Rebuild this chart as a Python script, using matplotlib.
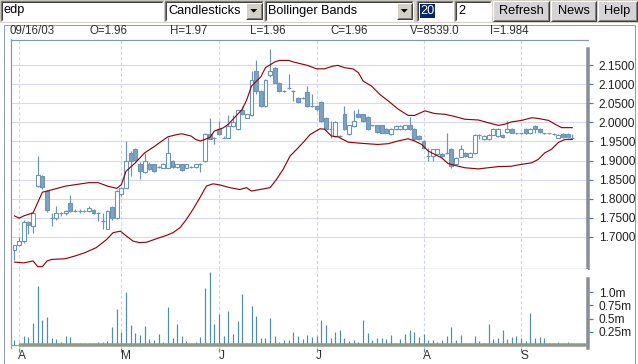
import matplotlib
matplotlib.use('Agg')
import matplotlib.pyplot as plt
from matplotlib.patches import Rectangle, Polygon
import matplotlib.transforms as mtransforms

plt.rcParams['font.family'] = ['Liberation Sans', 'DejaVu Sans']

# ---------------- data ----------------
opens = [1.665,1.680,1.690,1.740,1.728,1.833,1.859,1.820,1.750,1.750,1.762,1.762,1.790,1.768,1.768,1.768,1.768,1.770,1.762,1.742,
         1.720,1.778,1.750,1.811,1.829,1.920,1.931,1.892,1.870,1.892,1.890,1.883,1.881,1.881,1.899,1.883,1.890,1.881,1.883,1.883,
         1.892,1.899,1.970,1.960,1.982,1.960,1.960,1.990,1.982,2.031,2.012,2.018,2.133,2.082,2.043,2.125,2.143,2.104,2.082,2.090,
         2.082,2.063,2.063,2.080,2.043,2.043,2.053,2.012,1.982,1.964,1.964,2.021,1.970,1.990,2.021,2.021,2.015,1.992,1.992,1.992,
         1.982,1.970,1.982,1.982,1.982,1.992,1.982,1.964,1.951,1.912,1.912,1.916,1.918,1.920,1.931,1.890,1.910,1.920,1.910,1.920,
         1.968,1.955,1.955,1.968,1.964,1.968,1.975,1.983,1.971,1.971,1.982,1.971,1.990,1.982,1.971,1.971,1.970,1.960,1.970,1.970,
         1.960]
highs = [1.680,1.700,1.745,1.742,1.765,1.912,1.862,1.822,1.763,1.780,1.765,1.770,1.810,1.772,1.772,1.770,1.780,1.772,1.764,1.762,
         1.770,1.780,1.822,1.830,1.951,1.925,1.933,1.895,1.920,1.895,1.892,1.886,1.894,1.962,1.901,1.892,1.892,1.892,1.886,1.892,
         1.894,1.972,2.012,1.962,2.003,1.963,2.020,2.020,2.032,2.043,2.023,2.133,2.163,2.085,2.114,2.193,2.145,2.106,2.085,2.126,
         2.085,2.065,2.066,2.094,2.075,2.045,2.055,2.014,2.003,2.003,1.967,2.043,1.994,2.031,2.034,2.023,2.017,1.994,1.994,1.994,
         1.984,1.984,1.992,1.992,1.994,2.015,1.984,1.966,1.953,1.933,1.931,1.931,1.920,1.971,1.933,1.909,1.940,1.922,1.922,1.970,
         1.970,1.966,1.970,1.984,1.984,1.970,2.003,1.985,1.973,1.973,1.984,1.984,1.992,1.984,1.973,1.973,1.972,1.970,1.972,1.972,
         1.970]
lows = [1.640,1.675,1.685,1.707,1.710,1.830,1.825,1.765,1.728,1.745,1.755,1.758,1.765,1.765,1.762,1.765,1.765,1.760,1.742,1.720,
        1.720,1.745,1.748,1.808,1.828,1.860,1.899,1.851,1.868,1.875,1.870,1.880,1.880,1.880,1.881,1.880,1.872,1.880,1.881,1.881,
        1.870,1.897,1.955,1.942,1.968,1.958,1.958,1.988,1.980,2.019,2.010,2.016,2.075,2.040,2.041,2.118,2.102,2.080,2.080,2.088,
        2.056,2.051,2.060,2.041,2.040,2.030,2.000,1.980,1.960,1.962,1.962,1.981,1.968,1.988,2.013,2.001,1.980,1.990,1.973,1.971,
        1.971,1.968,1.980,1.980,1.980,1.980,1.953,1.953,1.931,1.899,1.899,1.914,1.910,1.918,1.880,1.888,1.908,1.910,1.908,1.918,
        1.955,1.953,1.953,1.966,1.962,1.959,1.973,1.971,1.969,1.969,1.969,1.969,1.971,1.973,1.969,1.969,1.968,1.958,1.959,1.959,
        1.958]
closes = [1.680,1.690,1.740,1.730,1.762,1.861,1.830,1.770,1.750,1.762,1.762,1.768,1.768,1.768,1.768,1.768,1.776,1.762,1.762,1.742,
          1.768,1.750,1.820,1.829,1.899,1.900,1.901,1.872,1.899,1.877,1.872,1.883,1.892,1.920,1.883,1.890,1.874,1.890,1.883,1.892,
          1.892,1.970,1.957,1.960,1.970,1.960,1.990,2.001,2.031,2.021,2.021,2.112,2.082,2.043,2.112,2.133,2.104,2.082,2.082,2.090,
          2.082,2.053,2.063,2.043,2.043,2.034,2.003,1.983,1.982,2.001,1.964,1.983,1.992,2.003,2.015,2.003,1.983,1.992,1.975,1.973,
          1.973,1.982,1.990,1.990,1.992,1.982,1.955,1.955,1.933,1.912,1.929,1.929,1.912,1.920,1.885,1.907,1.931,1.912,1.920,1.968,
          1.968,1.964,1.968,1.982,1.982,1.961,1.982,1.973,1.971,1.971,1.971,1.982,1.983,1.975,1.971,1.971,1.970,1.968,1.961,1.961,
          1.960]
volumes_m = [0.095,0.02,0.17,0.15,0.42,1.12,0.47,0.53,0.13,0.11,0.06,0.17,0.15,0.04,0.04,0.04,0.04,0.04,0.06,0.06,
             0.08,0.34,0.68,0.25,1.00,0.38,0.23,0.19,0.36,0.11,0.095,0.21,0.06,0.72,0.13,0.40,0.17,0.08,0.04,0.06,
             0.15,1.08,1.39,0.40,0.59,0.17,0.65,0.21,0.46,0.97,0.04,0.74,0.55,0.13,0.13,0.51,0.17,0.06,0.095,0.095,
             0.25,0.17,0.11,0.19,0.15,0.17,0.47,0.38,0.13,0.25,0.28,0.13,0.08,0.095,0.06,0.47,0.23,0.095,0.13,0.13,
             0.11,0.19,0.04,0.11,0.21,0.28,0.25,0.15,0.21,0.095,0.095,0.06,0.095,0.17,0.34,0.095,0.19,0.04,0.04,0.17,
             0.08,0.04,0.40,0.11,0.13,0.28,0.11,0.15,0.17,0.13,0.08,0.61,0.13,0.15,0.13,0.04,0.04,0.06,0.04,0.06,
             0.0085]

upper_idx = [0,1,2,4,5,6,7,11,16,18,20,22,23,24,26,28,30,33,35,36,38,39,40,42,43,45,46,48,49,50,51,53,54,56,57,59,60,62,63,65,
             66.7,68.5,69.6,71,72.8,74,75,76.8,78.6,80.4,82.6,84.7,86.1,88.3,90.4,92.6,94.8,96.9,99.8,101.9,104.1,105.5,106.9,
             109.1,111.3,112.7,114.9,116.3,117.7,120]
upper_val = [1.755,1.749,1.755,1.763,1.790,1.817,1.820,1.833,1.842,1.842,1.833,1.827,1.837,1.872,1.894,1.920,1.936,1.962,1.968,
             1.970,1.964,1.955,1.951,1.960,1.977,1.986,1.995,2.021,2.034,2.060,2.095,2.119,2.143,2.158,2.162,2.162,2.158,2.152,
             2.149,2.140,2.140,2.147,2.149,2.143,2.140,2.130,2.108,2.095,2.073,2.056,2.034,2.018,2.018,2.030,2.023,2.021,2.015,
             2.008,2.006,1.999,1.992,1.995,2.001,2.005,2.012,2.010,2.005,1.995,1.986,1.986]
lower_idx = [0,2,4,5,6,7,8,11,13,15,17.6,19.8,21.2,22.8,24.1,25.5,26.9,28.4,30.5,32.7,34.1,35.6,37,38.4,39.9,41.3,42.7,44.2,
             46.3,48.5,49.9,51,52.8,55,56.4,57.8,59.3,60.7,62.1,63.6,65.7,66.7,68.2,69.6,71.8,74.6,78.2,80.4,82.5,84.7,86.1,
             87.6,89,90.4,91.9,93.3,94.8,96.9,99.8,101.9,104.1,106.9,109.1,111.3,112.7,114.1,115.5,117,118.4,120]
lower_val = [1.634,1.632,1.637,1.622,1.622,1.637,1.641,1.643,1.650,1.658,1.672,1.693,1.711,1.715,1.702,1.689,1.685,1.686,1.695,
             1.704,1.711,1.724,1.746,1.772,1.803,1.833,1.839,1.836,1.829,1.824,1.829,1.820,1.824,1.829,1.851,1.877,1.912,1.929,
             1.947,1.968,1.983,1.982,1.964,1.962,1.948,1.945,1.942,1.944,1.951,1.957,1.951,1.942,1.925,1.916,1.907,1.892,1.887,
             1.881,1.878,1.881,1.884,1.885,1.890,1.894,1.903,1.920,1.929,1.947,1.955,1.955]

month_idx = [1, 23, 44, 65, 88, 109]
month_labels = ['A', 'M', 'J', 'J', 'A', 'S']
price_ticks = [1.70, 1.75, 1.80, 1.85, 1.90, 1.95, 2.00, 2.05, 2.10, 2.15]
price_tick_labels = ['1.7000', '1.7500', '1.8000', '1.8500', '1.9000', '1.9500', '2.0000', '2.0500', '2.1000', '2.1500']
vol_ticks = [0.25, 0.5, 0.75, 1.0]
vol_tick_labels = ['0.25m', '0.5m', '0.75m', '1.0m']
info_texts = ['09/16/03', 'O=1.96', 'H=1.97', 'L=1.96', 'C=1.96', 'V=8539.0', 'I=1.984']

# ---------------- figure ----------------
W, H = 638, 364
fig = plt.figure(figsize=(W / 100, H / 100), dpi=100)
fig.patch.set_facecolor('white')

def box(x0, y0, x1, y1):
    return [x0 / W, 1 - y1 / H, (x1 - x0) / W, (y1 - y0) / H]

PX = 0.72  # one pixel in points

bg = fig.add_axes([0, 0, 1, 1], zorder=0)
bg.set_xlim(0, W)
bg.set_ylim(H, 0)
bg.axis('off')

# toolbar
bg.add_patch(Rectangle((0, 0), W, 22.5, fc='#d4d0c8', ec='none'))

def sunken(x0, y0, x1, y1):
    bg.add_patch(Rectangle((x0, y0), x1 - x0, y1 - y0, fc='white', ec='none'))
    bg.plot([x0, x0, x1], [y1, y0, y0], color='#808080', lw=PX * 1.3, solid_capstyle='butt')
    bg.plot([x0 + 1, x0 + 1, x1 - 1], [y1 - 1, y0 + 1, y0 + 1], color='#404040', lw=PX, solid_capstyle='butt')
    bg.plot([x0, x1, x1], [y1, y1, y0], color='#ffffff', lw=PX, solid_capstyle='butt')

def raised(x0, y0, x1, y1, fc='#d4d0c8'):
    bg.add_patch(Rectangle((x0, y0), x1 - x0, y1 - y0, fc=fc, ec='none'))
    bg.plot([x0, x0, x1], [y1, y0, y0], color='#ffffff', lw=PX, solid_capstyle='butt')
    bg.plot([x0, x1, x1], [y1, y1, y0], color='#404040', lw=PX, solid_capstyle='butt')
    bg.plot([x0 + 1, x1 - 1, x1 - 1], [y1 - 1, y1 - 1, y0 + 1], color='#808080', lw=PX, solid_capstyle='butt')

def arrow_btn(x0, y0, x1, y1):
    raised(x0, y0, x1, y1)
    cx, cy = (x0 + x1) / 2, (y0 + y1) / 2
    bg.add_patch(Polygon([(cx - 3.5, cy - 1.5), (cx + 3.5, cy - 1.5), (cx, cy + 2.2)], closed=True,
                         fc='black', ec='none'))

fs_ui = 9.2
sunken(0.5, 0.5, 163, 20.5)
bg.text(4, 10.5, 'edp', fontsize=fs_ui, va='center', ha='left', color='black')

sunken(165, 0.5, 263, 20.5)
bg.text(168, 10.8, 'Candlesticks', fontsize=fs_ui, va='center', ha='left', color='black')
arrow_btn(246, 2.5, 261.5, 18.5)

sunken(265, 0.5, 413, 20.5)
bg.text(268, 10.8, 'Bollinger Bands', fontsize=fs_ui, va='center', ha='left', color='black')
arrow_btn(397, 2.5, 411.5, 18.5)

sunken(417, 0.5, 453, 20.5)
bg.add_patch(Rectangle((420, 3.5), 14.5, 14, fc='#0a246a', ec='none'))
bg.text(420.5, 10.8, '20', fontsize=fs_ui, va='center', ha='left', color='white')

sunken(455, 0.5, 491, 20.5)
bg.text(458, 10.8, '2', fontsize=fs_ui, va='center', ha='left', color='black')

for (x0, x1, lab) in [(493, 549, 'Refresh'), (551, 596, 'News'), (598, 636.5, 'Help')]:
    raised(x0, 0.5, x1, 20.5, fc='#d6d3d6')
    bg.text((x0 + x1) / 2, 10.8, lab, fontsize=fs_ui, va='center', ha='center', color='black')

# panel border
bg.plot([3.5, 3.5], [24.5, H], color='#8ca0b4', lw=PX, solid_capstyle='butt')
bg.plot([3.5, 634.5], [24.5, 24.5], color='#8ca0b4', lw=PX, solid_capstyle='butt')
bg.plot([634.5, 634.5], [24.5, H], color='#8ca0b4', lw=PX, solid_capstyle='butt')

# info row
info_x = [10, 90, 170, 250, 330, 410, 490]
for x, t in zip(info_x, info_texts):
    bg.text(x, 31.5, t, fontsize=8.3, va='center', ha='left', color='#303030')

# ---------------- price axes ----------------
XMIN, XMAX = -0.86, 123.5
ax = fig.add_axes(box(10.5, 39.5, 588.5, 268.5), zorder=2)
ax.set_facecolor('white')
ax.set_xlim(XMIN, XMAX)
PY0 = 2.15 - (268.5 - 65) / 382
PY1 = 2.15 + (65 - 39.5) / 382
ax.set_ylim(PY0, PY1)

for v in price_ticks:
    ax.axhline(v, color='#d8d8f4', lw=PX * 1.1, zorder=0)
for m in month_idx:
    ax.axvline(m, color='#d4d4ec', lw=PX * 1.1, ls=(0, (3, 2)), zorder=0)

edge_c = '#6a94ba'
fill_c = '#7fa2c2'
for i in range(len(opens)):
    o, h, l, c = opens[i], highs[i], lows[i], closes[i]
    ax.vlines(i, l, h, color=edge_c, lw=PX * 1.2, zorder=2)
    lo, hi = min(o, c), max(o, c)
    if hi - lo < 0.0015:
        ax.hlines(o, i - 0.42, i + 0.42, color=edge_c, lw=PX * 1.2, zorder=3)
    else:
        fc = 'white' if c >= o else fill_c
        ax.add_patch(Rectangle((i - 0.42, lo), 0.84, hi - lo, fc=fc, ec=edge_c, lw=PX * 1.1, zorder=3))

ax.plot(upper_idx, upper_val, color='#990000', lw=PX * 1.15, zorder=4)
ax.plot(lower_idx, lower_val, color='#990000', lw=PX * 1.15, zorder=4)

for s in ['left', 'top', 'bottom']:
    ax.spines[s].set_color('#7f9ab4')
    ax.spines[s].set_linewidth(PX * 1.2)
ax.spines['right'].set_color('#8a8c9c')
ax.spines['right'].set_linewidth(PX * 3.5)
ax.spines['right'].set_bounds(PY0, 2.15 + (65 - 49) / 382)
ax.set_xticks([])
ax.yaxis.set_ticks_position('right')
ax.set_yticks(price_ticks)
ax.set_yticklabels(price_tick_labels)
ax.tick_params(axis='y', direction='out', length=4.5 * PX, width=PX * 1.2, color='#5078a8',
               pad=4.2, labelsize=8.6, labelcolor='#202020')

# ---------------- volume axes ----------------
VBOT, VTOP = 347.5, 269.0
VZERO = 345.0
VSCALE = 52.7
ax2 = fig.add_axes(box(10.5, VTOP, 588.5, VBOT), zorder=2)
ax2.set_facecolor('white')
ax2.set_xlim(XMIN, XMAX)
ax2.set_ylim(-(VBOT - VZERO) / VSCALE, (VZERO - VTOP) / VSCALE)
for m in month_idx:
    ax2.axvline(m, color='#d4d4ec', lw=PX * 1.1, ls=(0, (3, 2)), zorder=0)
ax2.vlines(range(len(volumes_m)), 0, volumes_m, color='#4e8cb2', lw=PX * 1.2, zorder=2)
ax2.hlines(0, month_idx[0], XMAX, color='#8d9a88', lw=PX * 3.5, zorder=3)
ax2.hlines(0, XMIN, month_idx[0], color='#8ca0b4', lw=PX * 1.2, zorder=3)

for s in ['top', 'bottom']:
    ax2.spines[s].set_visible(False)
ax2.spines['left'].set_color('#7f9ab4')
ax2.spines['left'].set_linewidth(PX * 1.2)
ax2.spines['right'].set_color('#8a8c9c')
ax2.spines['right'].set_linewidth(PX * 3.5)
ax2.spines['right'].set_bounds(-(VBOT - VZERO) / VSCALE, (VZERO - 279) / VSCALE)
ax2.set_xticks([])
ax2.yaxis.set_ticks_position('right')
ax2.set_yticks(vol_ticks)
ax2.set_yticklabels(vol_tick_labels)
ax2.tick_params(axis='y', direction='out', length=4.5 * PX, width=PX * 1.2, color='#5078a8',
                pad=4.2, labelsize=8.6, labelcolor='#202020')

trans = mtransforms.blended_transform_factory(ax2.transData, ax2.transAxes)
hpx = VBOT - VTOP
for m, lab in zip(month_idx, month_labels):
    ax2.vlines(m, (VBOT - 351.5) / hpx, 0.0, transform=trans, color='#6a7f96', lw=PX * 1.2, clip_on=False)
    ax2.text(m - 0.15, (VBOT - 356) / hpx, lab, transform=trans, fontsize=8.6, ha='left', va='center',
             color='#303030', clip_on=False)

fig.savefig('out.png', dpi=100, facecolor='white')
